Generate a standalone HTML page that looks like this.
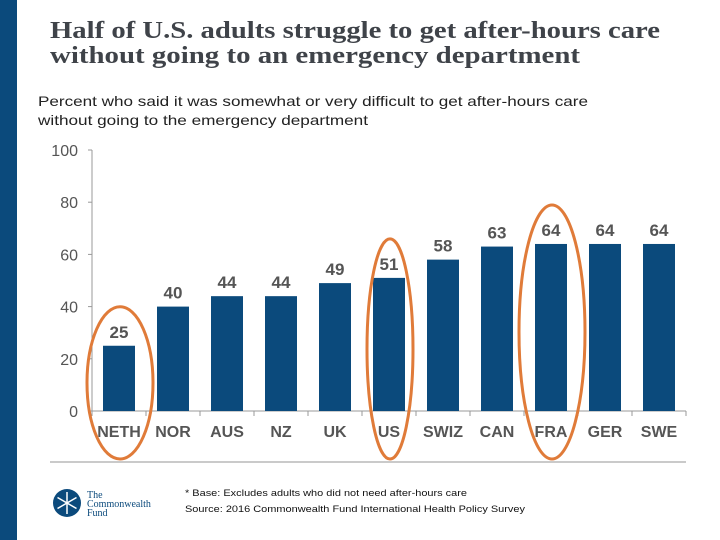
<!DOCTYPE html>
<html><head><meta charset="utf-8"><style>
html,body{margin:0;padding:0;background:#fff;}
svg{display:block;}
</style></head><body>
<svg id="chart" width="720" height="540" viewBox="0 0 720 540" xmlns="http://www.w3.org/2000/svg">
<rect x="0" y="0" width="17" height="540" fill="#0b4a7c"/>
<text x="50" y="38" font-family="Liberation Serif, serif" font-weight="bold" font-size="24" fill="#3f4349" textLength="610" lengthAdjust="spacingAndGlyphs">Half of U.S. adults struggle to get after-hours care</text>
<text x="50" y="63" font-family="Liberation Serif, serif" font-weight="bold" font-size="24" fill="#3f4349" textLength="530" lengthAdjust="spacingAndGlyphs">without going to an emergency department</text>
<text x="38" y="106" font-family="Liberation Sans, sans-serif" font-size="14" fill="#222" textLength="550" lengthAdjust="spacingAndGlyphs">Percent who said it was somewhat or very difficult to get after-hours care</text>
<text x="38" y="125" font-family="Liberation Sans, sans-serif" font-size="14" fill="#222" textLength="330" lengthAdjust="spacingAndGlyphs">without going to the emergency department</text>
<g id="plot"></g>
<line x1="50" y1="462" x2="686" y2="462" stroke="#aaa" stroke-width="1.2"/>
<g>
<circle cx="67" cy="503" r="14" fill="#0b4a7c"/>
<g stroke="#fff" stroke-width="1.5"><line x1="67" y1="492" x2="67" y2="514"/><line x1="57.5" y1="497.5" x2="76.5" y2="508.5"/><line x1="57.5" y1="508.5" x2="76.5" y2="497.5"/></g>
<text x="87" y="498" font-family="Liberation Serif, serif" font-size="10" fill="#0b4a7c">The</text>
<text x="87" y="507" font-family="Liberation Serif, serif" font-size="10" fill="#0b4a7c">Commonwealth</text>
<text x="87" y="516" font-family="Liberation Serif, serif" font-size="10" fill="#0b4a7c">Fund</text>
</g>
<text x="185" y="496" font-family="Liberation Sans, sans-serif" font-size="9.5" fill="#111" textLength="282" lengthAdjust="spacingAndGlyphs">* Base: Excludes adults who did not need after-hours care</text>
<text x="185" y="512" font-family="Liberation Sans, sans-serif" font-size="9.5" fill="#111" textLength="340" lengthAdjust="spacingAndGlyphs">Source: 2016 Commonwealth Fund International Health Policy Survey</text>
</svg>
<script>
const categories = ["NETH","NOR","AUS","NZ","UK","US","SWIZ","CAN","FRA","GER","SWE"];
const values = [25,40,44,44,49,51,58,63,64,64,64];
const yTicks = [0,20,40,60,80,100];
const highlighted = ["NETH","US","FRA"];

const NS = "http://www.w3.org/2000/svg";
const g = document.getElementById('plot');
const x0 = 92, x1 = 686, yBase = 411, yTop = 150;
const slot = (x1 - x0) / categories.length;
const yScale = v => yBase - (v / 100) * (yBase - yTop);
const xCenter = i => x0 + slot * (i + 0.5);
function mk(tag, attrs){ const e = document.createElementNS(NS, tag); for (const k in attrs) e.setAttribute(k, attrs[k]); g.appendChild(e); return e; }

let ax = mk('line', {x1:x0, y1:yTop, x2:x0, y2:yBase, stroke:'#999', 'stroke-width':1});


let bx = mk('line', {x1:x0, y1:yBase, x2:x1, y2:yBase, stroke:'#999', 'stroke-width':1});



yTicks.forEach(t => {
  const y = yScale(t);
  const tk = mk('line', {x1:x0-4, y1:y, x2:x0, y2:y, stroke:'#999'});
  
  
  const tx = mk('text', {x:x0-14, y:y+6, 'text-anchor':'end', 'font-family':'Liberation Sans, sans-serif', 'font-size':16, fill:'#555'});
  tx.textContent = t;
  
  
});
for (let i = 0; i <= categories.length; i++) {
  const x = x0 + slot * i;
  const tk = mk('line', {x1:x, y1:yBase, x2:x, y2:yBase+5, stroke:'#999'});
  
  
}
categories.forEach((c, i) => {
  const cx = xCenter(i), bw = 32, y = yScale(values[i]);
  const b = mk('rect', {x:cx-bw/2, y:y, width:bw, height:yBase-y, fill:'#0b4a7c'});
  
  
  const v = mk('text', {x:cx, y:y-8, 'text-anchor':'middle', 'font-family':'Liberation Sans, sans-serif', 'font-weight':'bold', 'font-size':17, fill:'#555'});
  v.textContent = values[i];
  
  
  const l = mk('text', {x:cx, y:437, 'text-anchor':'middle', 'font-family':'Liberation Sans, sans-serif', 'font-weight':'bold', 'font-size':16, fill:'#555'});
  l.textContent = c;
  
  
});
highlighted.forEach(c => {
  const i = categories.indexOf(c);
  const cx = xCenter(i) + 1;
  const top = yScale(values[i]) - 39;
  const bottom = 459;
  const rx = c === "US" ? 23 : 33;
  const e = mk('ellipse', {cx:cx, cy:(top+bottom)/2, rx:rx, ry:(bottom-top)/2, fill:'none', stroke:'#e07b39', 'stroke-width':3});
  
  
});
</script>
</body></html>
